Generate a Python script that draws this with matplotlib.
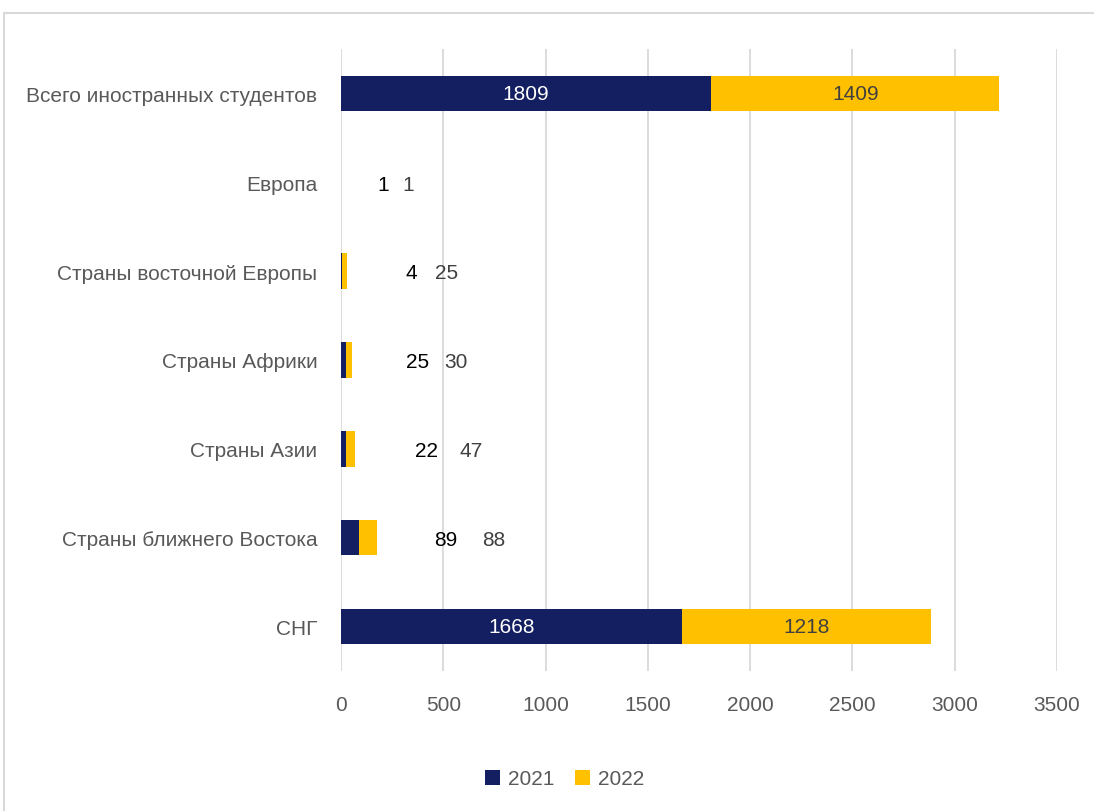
import matplotlib.pyplot as plt
from matplotlib.patches import Rectangle

plt.rcParams['font.family'] = ['Liberation Sans Narrow', 'Liberation Sans', 'DejaVu Sans']

# data
categories = ['Всего иностранных студентов', 'Европа', 'Страны восточной Европы',
              'Страны Африки', 'Страны Азии', 'Страны ближнего Востока', 'СНГ']
vals_2021 = [1809, 1, 4, 25, 22, 89, 1668]
vals_2022 = [1409, 1, 25, 30, 47, 88, 1218]
series = ['2021', '2022']

# where Excel had the small labels dragged to (data units)
small_lbl_2021 = [None, 205, 342, 376, 420, 513, None]
small_lbl_2022 = [None, 327, 518, 562, 635, 748, None]

navy = '#131f60'
gold = '#ffc000'
grey_txt = '#595959'
fs = 15

fig = plt.figure(figsize=(10.94, 8.12), dpi=100)
ax = fig.add_axes([341 / 1094, 1 - 672 / 812, 716 / 1094, 622 / 812])

# outer chart frame
fig.patches.append(Rectangle((4 / 1094, -0.01), 1.1, 1 - 14 / 812 + 0.01,
                             transform=fig.transFigure, fill=False,
                             edgecolor='#d9d9d9', linewidth=1.5))

y = list(range(len(categories)))
ax.barh(y, vals_2021, height=0.4, color=navy, label=series[0])
ax.barh(y, vals_2022, left=vals_2021, height=0.4, color=gold, label=series[1])

for i in y:
    a, b = vals_2021[i], vals_2022[i]
    if small_lbl_2021[i] is None:
        ax.text(a / 2, i, str(a), ha='center', va='center', color='white', fontsize=fs)
        ax.text(a + b / 2, i, str(b), ha='center', va='center', color='#404040', fontsize=fs)
    else:
        ax.text(small_lbl_2021[i], i + 0.02, str(a), ha='center', va='center', color='black', fontsize=fs)
        ax.text(small_lbl_2022[i], i + 0.02, str(b), ha='center', va='center', color='#404040', fontsize=fs)

ax.set_xlim(0, 3500)
ax.set_ylim(6.5, -0.5)
ax.set_xticks(range(0, 3501, 500))
ax.set_yticks(y)
ax.set_yticklabels(categories)
ax.tick_params(axis='both', length=0, labelsize=fs, labelcolor=grey_txt)
ax.tick_params(axis='x', pad=17)
ax.tick_params(axis='y', pad=17)
ax.grid(axis='x', color='#d9d9d9', linewidth=1.3)
ax.set_axisbelow(True)
for s in ax.spines.values():
    s.set_visible(False)

fig.legend(loc='center', bbox_to_anchor=(565 / 1094, 1 - 780 / 812), ncol=2,
           frameon=False, fontsize=fs, handlelength=0.7, handleheight=0.7,
           columnspacing=1.0, handletextpad=0.4, labelcolor=grey_txt)

fig.savefig('out.png', dpi=100)
